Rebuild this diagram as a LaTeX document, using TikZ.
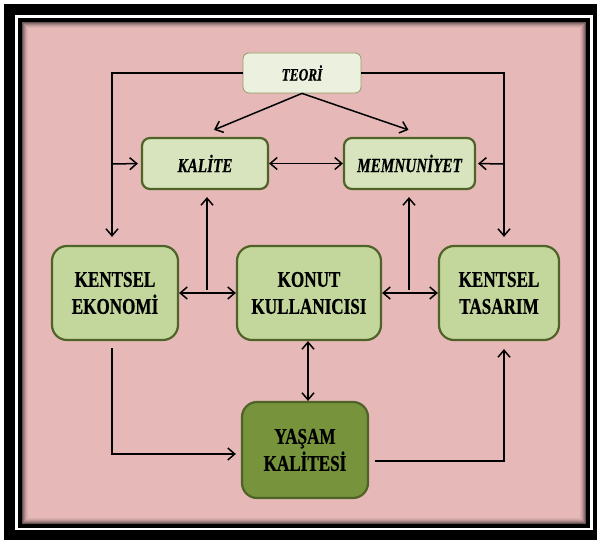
\documentclass[tikz,border=0pt]{standalone}
\usepackage{fontspec}
\setmainfont{Liberation Serif}[FakeStretch=0.76,BoldFeatures={FakeBold=0.6},BoldItalicFeatures={FakeBold=0.6}]
\usetikzlibrary{arrows.meta,calc}
\definecolor{panelpink}{HTML}{E6B9B8}
\definecolor{boxlight}{HTML}{D7E4BD}
\definecolor{boxmid}{HTML}{C3D69B}
\definecolor{boxpale}{HTML}{EBF1DE}
\definecolor{boxdark}{HTML}{77933C}
\definecolor{boxline}{HTML}{4F6228}
\definecolor{paleline}{HTML}{8EA066}
\tikzset{
  barb/.tip={Straight Barb[length=7pt,width=12pt]},
  arr/.style={draw=black,line width=1.5pt,-barb},
  darr/.style={draw=black,line width=1.5pt,barb-barb},
  smallbox/.style={draw=boxline,line width=2.2pt,fill=boxlight,rounded corners=8pt,
    minimum height=51pt,inner sep=0pt,font=\fontsize{20}{22}\selectfont\bfseries\itshape},
  bigbox/.style={draw=boxline,line width=2.2pt,fill=boxmid,rounded corners=15pt,
    minimum height=94pt,inner sep=0pt,align=center,font=\fontsize{22.5}{27}\selectfont\bfseries},
  teoribox/.style={draw=paleline,line width=0.8pt,fill=boxpale,rounded corners=6pt,
    minimum width=118pt,minimum height=40pt,inner sep=0pt,font=\fontsize{17.5}{20}\selectfont\bfseries\itshape},
}
\begin{document}
\begin{tikzpicture}[x=1pt,y=-1pt]
\useasboundingbox (0,0) rectangle (597,540);
% frame
\fill[white] (0,0) rectangle (597,540);
\fill[black] (4,4) rectangle (597,540);
\fill[white] (15,15) rectangle (592.5,530);
\fill[black] (18,18) rectangle (590,527.5);
\fill[panelpink] (22,22) rectangle (586,523.5);
\foreach \i/\o in {0/0.55,1/0.4,2/0.28,3/0.18,4/0.1,5/0.05}{
  \draw[black,opacity=\o,line width=1pt] (22.5+\i,22.5+\i) rectangle (585.5-\i,523-\i);
}
% nodes
\node[teoribox] (teori) at (302,73) {TEORİ};
\node[smallbox,minimum width=126pt] (kalite) at (205,163.5) {KALİTE};
\node[smallbox,minimum width=131pt] (memn) at (409.5,163.5) {MEMNUNİYET};
\node[bigbox,minimum width=126pt] (ke) at (115,293) {KENTSEL\\EKONOMİ};
\node[bigbox,minimum width=144pt] (kk) at (309,293) {KONUT\\KULLANICISI};
\node[bigbox,minimum width=120pt] (kt) at (499,293) {KENTSEL\\TASARIM};
\node[bigbox,fill=boxdark,minimum width=126pt,minimum height=96pt] (yk) at (305,450) {YAŞAM\\KALİTESİ};
% junction coordinates
\coordinate (jl) at (112,164);
\coordinate (jr) at (504,164);
\coordinate (vk) at (207,290);
\coordinate (vm) at (409,290);
\coordinate (ks) at ($(kk.south)+(-1,0)$);
% connectors from TEORİ
\draw[arr,shorten >=8pt] (teori.west) -| ($(ke.north)+(-3,0)$);
\draw[arr,shorten >=3pt] (jl) -- (kalite.west);
\draw[arr,shorten >=8pt] (teori.east) -| ($(kt.north)+(5,0)$);
\draw[arr,shorten >=2pt] (jr) -- (memn.east);
\draw[arr] (teori.south) -- ($(kalite.north)+(9,-7)$);
\draw[arr] (teori.south) -- ($(memn.north)+(-1,-7)$);
% middle
\draw[darr] (kalite.east) -- (memn.west);
\draw[darr] (ke.east) -- (kk.west);
\draw[darr] (kk.east) -- (kt.west);
\draw[arr,shorten >=7pt] (vk) -- (vk |- kalite.south);
\draw[arr,shorten >=7pt] (vm) -- (vm |- memn.south);
\draw[darr] (ks) -- (ks |- yk.north);
% bottom
\draw[arr,shorten >=5pt] ($(ke.south)+(-3,7)$) |- ($(yk.west)+(0,4)$);
\draw[arr,shorten >=8pt] ($(yk.east)+(6,11)$) -| ($(kt.south)+(5,0)$);
\end{tikzpicture}
\end{document}
